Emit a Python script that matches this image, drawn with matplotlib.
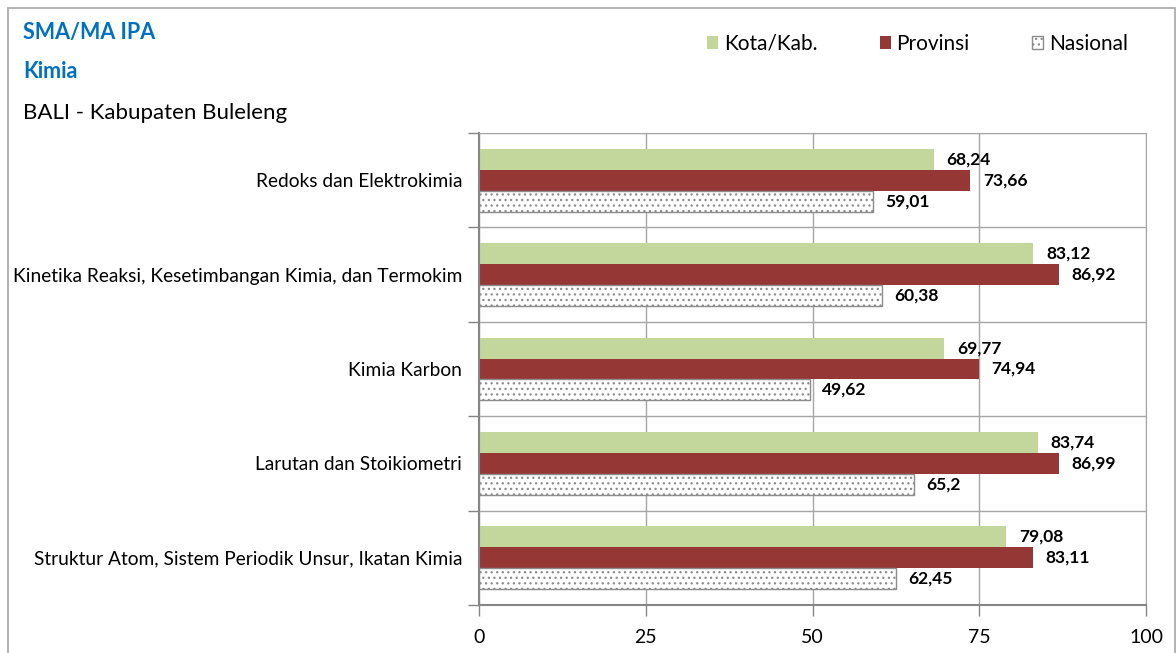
import matplotlib
matplotlib.use("Agg")
import matplotlib.pyplot as plt
from matplotlib.patches import Rectangle, Patch
import numpy as np

plt.rcParams['font.family'] = ['Lato', 'DejaVu Sans']
plt.rcParams['hatch.color'] = '#333333'
plt.rcParams['hatch.linewidth'] = 0.9

categories = [
    "Redoks dan Elektrokimia",
    "Kinetika Reaksi, Kesetimbangan Kimia, dan Termokim",
    "Kimia Karbon",
    "Larutan dan Stoikiometri",
    "Struktur Atom, Sistem Periodik Unsur, Ikatan Kimia",
]
kota = [68.24, 83.12, 69.77, 83.74, 79.08]
provinsi = [73.66, 86.92, 74.94, 86.99, 83.11]
nasional = [59.01, 60.38, 49.62, 65.2, 62.45]
series_names = ["Kota/Kab.", "Provinsi", "Nasional"]
x_ticks = [0, 25, 50, 75, 100]

W, H = 1176, 653
fig = plt.figure(figsize=(W / 100, H / 100), dpi=100)
ax = fig.add_axes([479 / W, 1 - 605 / H, (1146 - 479) / W, (605 - 133) / H])

n = len(categories)
ypos = np.arange(n)[::-1]  # first category on top
bh = 0.222

def fmt(v):
    s = ("%.2f" % v).rstrip('0').rstrip('.')
    return s.replace('.', ',')

b1 = ax.barh(ypos + bh, kota, height=bh, color='#C3D69B', edgecolor='none')
b2 = ax.barh(ypos, provinsi, height=bh, color='#953735', edgecolor='none')
b3 = ax.barh(ypos - bh, nasional, height=bh, color='white', edgecolor='#8C8C8C',
             hatch='...', linewidth=1.0)

for bars, vals in ((b1, kota), (b2, provinsi), (b3, nasional)):
    for rect, v in zip(bars, vals):
        ax.annotate(fmt(v), (v, rect.get_y() + rect.get_height() / 2),
                    xytext=(9, 0), textcoords='offset points', va='center', ha='left',
                    fontsize=12.5, fontweight='bold', color='black')

ax.set_xlim(0, 100)
ax.set_ylim(-0.5, n - 0.5)
ax.set_xticks(x_ticks)
ax.set_xticklabels([str(t) for t in x_ticks], fontsize=14)
ax.tick_params(axis='x', length=8, color='#868686', pad=9, width=1)
ax.set_yticks(np.arange(n + 1) - 0.5)
ax.set_yticklabels([])
ax.set_yticks(ypos, minor=True)
ax.set_yticklabels(categories, minor=True, fontsize=13.8)
ax.tick_params(axis='y', which='major', length=8, color='#868686', width=1)
ax.tick_params(axis='y', which='minor', length=0, pad=12)
ax.grid(True, which='major', color='#A6A6A6', linewidth=1)
ax.set_axisbelow(True)
for s in ax.spines.values():
    s.set_color('#A6A6A6')
ax.spines['left'].set_color('#868686')
ax.spines['bottom'].set_color('#868686')
ax.spines['left'].set_linewidth(1.5)
ax.spines['bottom'].set_linewidth(1.5)

# outer frame
fig.add_artist(Rectangle((8 / W, -0.05), (1175 - 8) / W, 1 - 8 / H + 0.05,
                         transform=fig.transFigure, fill=False, edgecolor='#A6A6A6', linewidth=1.2))

fig.text(23 / W, 1 - 32 / H, "SMA/MA IPA", color='#0070C0', fontsize=15.5, fontweight='bold', va='center')
fig.text(23 / W, 1 - 72 / H, "Kimia", color='#0070C0', fontsize=15.5, fontweight='bold', va='center')
fig.text(23 / W, 1 - 113 / H, "BALI - Kabupaten Buleleng", color='black', fontsize=16, va='center')

handles = [Patch(facecolor='#C3D69B', edgecolor='none'),
           Patch(facecolor='#953735', edgecolor='none'),
           Patch(facecolor='white', edgecolor='#8C8C8C', hatch='...')]
fig.legend(handles, series_names, loc='center left', bbox_to_anchor=(707 / W, 1 - 44 / H),
           ncol=3, frameon=False, fontsize=15, handlelength=0.55, handleheight=0.55,
           handletextpad=0.25, columnspacing=3.0, borderaxespad=0, borderpad=0)

fig.savefig("out.png", dpi=100)
